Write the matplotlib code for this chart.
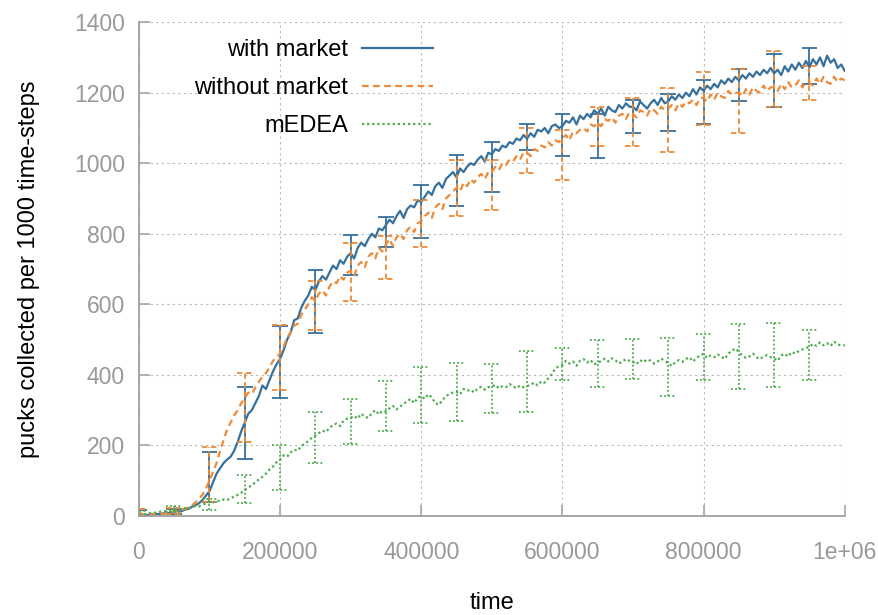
import numpy as np
import matplotlib
matplotlib.use("Agg")
import matplotlib.pyplot as plt

plt.rcParams['font.family'] = ['Liberation Sans', 'DejaVu Sans']

# time axis: one sample every 5000 steps
time = np.arange(0, 1000001, 5000)

with_market = [
    8, 3, 2, 4, 3, 6, 5, 8, 7, 10,
    12, 14, 13, 18, 20, 26, 30, 36, 45, 58,
    70, 95, 120, 135, 150, 160, 168, 185, 210, 240,
    265, 290, 300, 320, 340, 370, 360, 385, 410, 430,
    445, 470, 500, 520, 555, 560, 590, 610, 625, 650,
    640, 665, 680, 670, 690, 710, 700, 725, 715, 735,
    745, 730, 760, 775, 765, 785, 800, 790, 815, 810,
    825, 840, 830, 850, 865, 845, 870, 880, 875, 895,
    890, 905, 920, 910, 935, 945, 930, 955, 965, 975,
    960, 985, 975, 990, 1000, 995, 1010, 1020, 1005, 1030,
    1025, 1040, 1035, 1050, 1045, 1060, 1055, 1070, 1065, 1080,
    1070, 1085, 1075, 1095, 1090, 1100, 1085, 1105, 1110, 1100,
    1105, 1120, 1115, 1130, 1110, 1135, 1125, 1140, 1130, 1150,
    1140, 1155, 1135, 1160, 1150, 1145, 1165, 1155, 1170, 1160,
    1160, 1150, 1175, 1165, 1155, 1170, 1180, 1165, 1185, 1170,
    1175, 1190, 1180, 1195, 1185, 1200, 1190, 1210, 1195, 1215,
    1205, 1220, 1210, 1225, 1215, 1235, 1225, 1240, 1230, 1245,
    1235, 1250, 1240, 1255, 1245, 1260, 1250, 1265, 1255, 1270,
    1255, 1265, 1250, 1275, 1260, 1280, 1265, 1285, 1270, 1290,
    1272, 1295, 1280, 1300, 1275, 1305, 1285, 1295, 1270, 1280,
    1262,
]

without_market = [
    10, 5, 3, 4, 6, 5, 7, 6, 9, 11,
    14, 13, 17, 20, 24, 30, 38, 48, 60, 78,
    100, 125, 150, 185, 215, 245, 265, 285, 300, 320,
    335, 350, 345, 365, 380, 395, 405, 420, 440, 450,
    460, 480, 505, 520, 540, 545, 570, 585, 600, 620,
    610, 630, 640, 625, 650, 665, 660, 680, 670, 690,
    695, 680, 710, 720, 705, 735, 745, 730, 760, 750,
    770, 785, 765, 790, 800, 785, 810, 820, 805, 830,
    835, 850, 860, 845, 875, 885, 870, 900, 910, 920,
    930, 920, 945, 935, 955, 945, 960, 970, 955, 975,
    975, 990, 980, 1000, 995, 1010, 1005, 1020, 1010, 1030,
    1030, 1020, 1040, 1035, 1050, 1045, 1060, 1050, 1065, 1060,
    1070, 1080, 1065, 1090, 1085, 1095, 1100, 1090, 1110, 1105,
    1115, 1105, 1125, 1120, 1130, 1115, 1135, 1140, 1125, 1145,
    1140, 1130, 1150, 1145, 1135, 1155, 1150, 1140, 1160, 1150,
    1155, 1165, 1150, 1170, 1160, 1175, 1170, 1180, 1165, 1185,
    1185, 1175, 1195, 1180, 1200, 1190, 1185, 1205, 1195, 1200,
    1200, 1190, 1210, 1195, 1215, 1205, 1200, 1220, 1205, 1215,
    1215, 1205, 1225, 1210, 1230, 1215, 1220, 1235, 1215, 1230,
    1228, 1220, 1240, 1225, 1245, 1230, 1225, 1245, 1230, 1240,
    1235,
]

medea = [
    5, 4, 6, 8, 10, 9, 12, 14, 13, 16,
    17, 16, 20, 22, 21, 26, 28, 27, 32, 36,
    40, 38, 44, 42, 47, 45, 50, 55, 60, 66,
    74, 80, 88, 95, 104, 111, 120, 132, 140, 152,
    160, 172, 168, 180, 188, 185, 198, 205, 212, 222,
    228, 235, 242, 238, 250, 258, 262, 255, 270, 276,
    278, 284, 276, 290, 282, 278, 292, 300, 288, 298,
    296, 305, 312, 302, 310, 318, 325, 332, 320, 335,
    340, 332, 345, 336, 320, 315, 328, 340, 345, 350,
    352, 345, 360, 355, 358, 350, 362, 366, 358, 365,
    367, 372, 362, 368, 365, 374, 368, 362, 370, 365,
    368, 372, 378, 370, 382, 378, 390, 402, 418, 425,
    428, 440, 432, 438, 426, 440, 445, 435, 442, 430,
    433, 440, 446, 438, 447, 442, 432, 438, 445, 440,
    437, 430, 442, 436, 444, 440, 432, 438, 446, 440,
    433, 425, 436, 442, 437, 445, 450, 438, 448, 455,
    460, 448, 455, 450, 458, 452, 445, 460, 468, 475,
    465, 455, 448, 452, 460, 450, 445, 452, 456, 450,
    447, 440, 455, 460, 452, 465, 460, 468, 472, 476,
    479, 488, 482, 492, 484, 490, 482, 494, 486, 484,
    484,
]

# error bars every 50000 steps
err_time = np.arange(0, 1000000, 50000)
with_lo = [0, 6, 40, 161, 334, 518, 683, 763, 788, 880,
           918, 1037, 1020, 1015, 1085, 1092, 1112, 1177, 1160, 1225]
with_hi = [18, 20, 181, 366, 538, 697, 796, 847, 938, 1024,
           1060, 1112, 1141, 1140, 1180, 1195, 1237, 1266, 1309, 1326]
without_lo = [0, 5, 40, 210, 357, 527, 609, 671, 763, 850,
              867, 972, 952, 1050, 1048, 1031, 1108, 1085, 1160, 1180]
without_hi = [20, 22, 196, 405, 541, 665, 774, 795, 895, 1009,
              1010, 1100, 1094, 1160, 1185, 1213, 1259, 1266, 1319, 1275]
medea_lo = [0, 10, 17, 37, 74, 150, 205, 240, 263, 270,
            292, 295, 385, 366, 389, 341, 385, 360, 366, 385]
medea_hi = [15, 28, 48, 115, 201, 295, 332, 382, 423, 435,
            430, 468, 477, 499, 502, 504, 516, 545, 548, 528]

blue = '#36709c'
orange = '#ee8a37'
green = '#4dab4d'
gray = '#999999'

fig = plt.figure(figsize=(8.79, 6.15), dpi=100)
ax = fig.add_axes([0.158, 0.161, 0.803, 0.803])

series = [
    ("with market", with_market, with_lo, with_hi, blue, '-'),
    ("without market", without_market, without_lo, without_hi, orange, (0, (3, 2))),
    ("mEDEA", medea, medea_lo, medea_hi, green, (0, (1, 1.3))),
]

cap = 11000
for label, vals, lo, hi, col, ls in series:
    ax.plot(time, vals, color=col, linestyle=ls, linewidth=1.6, label=label)
    ax.vlines(err_time, lo, hi, colors=col, linestyles=ls, linewidth=1.3)
    ax.hlines(lo, err_time - cap, err_time + cap, colors=col, linestyles=ls, linewidth=1.3)
    ax.hlines(hi, err_time - cap, err_time + cap, colors=col, linestyles=ls, linewidth=1.3)

ax.set_xlim(0, 1000000)
ax.set_ylim(0, 1400)
ax.set_xticks(np.arange(0, 1000001, 200000))
ax.set_xticklabels(["0", "200000", "400000", "600000", "800000", "1e+06"])
ax.set_yticks(np.arange(0, 1401, 200))

ax.grid(True, color='#b8b8b8', linestyle=(0, (2, 3)), linewidth=0.8)
ax.set_axisbelow(True)
for side in ['top', 'right']:
    ax.spines[side].set_visible(False)
for side in ['left', 'bottom']:
    ax.spines[side].set_color('#a0a0a0')
    ax.spines[side].set_linewidth(1.3)

ax.tick_params(axis='both', direction='in', length=8, width=1.1, color='#a0a0a0',
               labelcolor=gray, labelsize=16.5)
ax.tick_params(axis='x', pad=18)
ax.tick_params(axis='y', pad=10)

ax.set_xlabel("time", fontsize=17)
ax.set_ylabel("pucks collected per 1000 time-steps", fontsize=17)
ax.xaxis.set_label_coords(0.5, -0.153)
ax.yaxis.set_label_coords(-0.140, 0.5)

ax.legend(loc='upper right', bbox_to_anchor=(0.4165, 0.966), frameon=False,
          markerfirst=False, fontsize=17, handlelength=3.0, labelspacing=0.68,
          handletextpad=0.6, borderpad=0.0, borderaxespad=0.0)

fig.savefig("out.png", dpi=100)
